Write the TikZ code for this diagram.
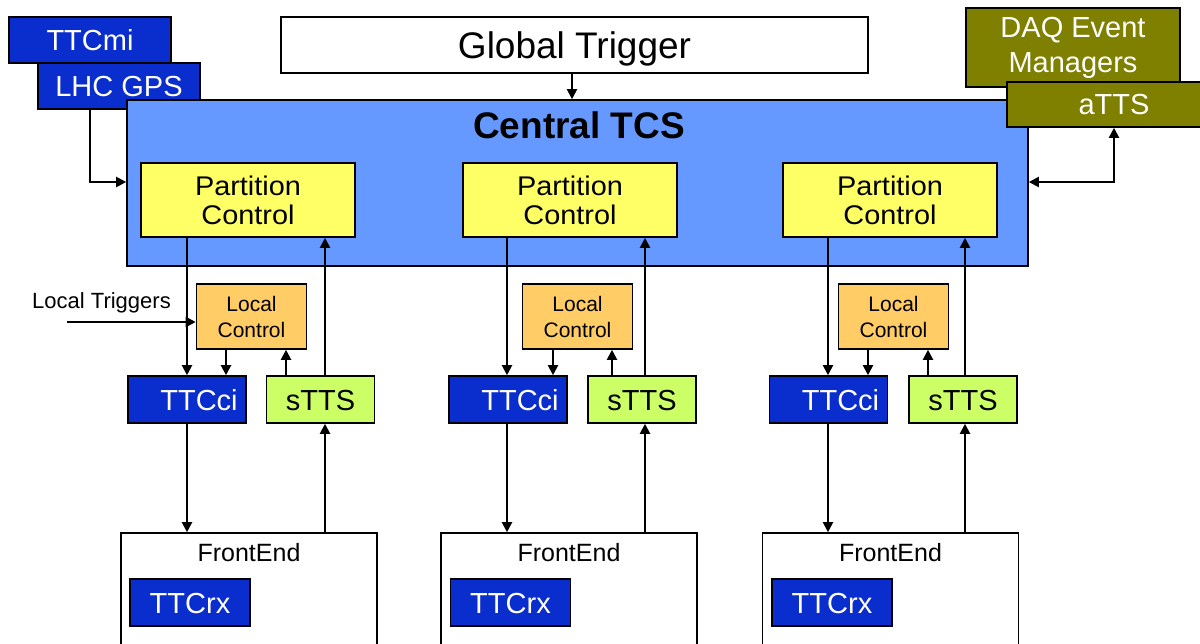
\documentclass[tikz,border=0pt]{standalone}
\usepackage{fontspec}
\setmainfont{Liberation Sans}
\newfontfamily\widefont[FakeStretch=1.07]{Liberation Sans}
\usetikzlibrary{arrows.meta}
\definecolor{ttcblue}{RGB}{10,45,205}
\definecolor{tcsblue}{RGB}{102,153,255}
\definecolor{partyellow}{RGB}{255,255,102}
\definecolor{lcorange}{RGB}{255,204,102}
\definecolor{sttsgreen}{RGB}{204,255,102}
\definecolor{daqolive}{RGB}{128,128,0}
\newcommand\szTitle{\fontsize{37pt}{44pt}\selectfont}
\newcommand\szBox{\fontsize{29pt}{35pt}\selectfont}
\newcommand\szPart{\widefont\fontsize{27pt}{29pt}\selectfont}
\newcommand\szLoc{\fontsize{21pt}{26pt}\selectfont}
\newcommand\szFE{\fontsize{25pt}{30pt}\selectfont}
\newcommand\szLT{\fontsize{22pt}{26pt}\selectfont}
\begin{document}
\begin{tikzpicture}[x=1pt,y=-1pt,
  box/.style={draw=black, line width=1.6pt, rectangle, inner sep=0pt, text height=21pt, text depth=0pt},
  mbox/.style={draw=black, line width=1.6pt, rectangle, inner sep=0pt, align=center},
  ttc/.style={box, fill=ttcblue, text=white, font=\szBox},
  olive/.style={mbox, fill=daqolive, text=white, font=\szBox},
  arr/.style={line width=2pt, -{Triangle[length=10pt,width=10pt]}},
  darr/.style={line width=2pt, {Triangle[length=10pt,width=10pt]}-{Triangle[length=10pt,width=10pt]}},
  plain/.style={inner sep=0pt}]
\useasboundingbox (0,0) rectangle (1200,644);
\clip (0,0) rectangle (1200,644);
\fill[white] (0,0) rectangle (1200,644);

% top row
\node[ttc, minimum width=162pt, minimum height=46pt] (ttcmi) at (90,40) {TTCmi};
\node[ttc, minimum width=162pt, minimum height=46pt] (lhc) at (119,86) {LHC GPS};
\node[box, fill=white, font=\szTitle, text height=26.6pt, minimum width=587pt, minimum height=56pt] (gt) at (574.5,45) {Global Trigger};

% central TCS
\node[mbox, fill=tcsblue, minimum width=901pt, minimum height=166pt] (tcs) at (577.5,183) {};
\node[plain, anchor=base, font=\szTitle\bfseries] (tcst) at (579,139) {Central TCS};

\node[olive, minimum width=214pt, minimum height=79pt] (daq) at (1073,47.5) {DAQ Event\\Managers};
\node[box, fill=daqolive, text=white, font=\szBox, minimum width=214pt, minimum height=45pt] (atts) at (1114,104.5) {aTTS};

% arrows at top
\coordinate (gx) at (572,0);
\draw[arr] (gt.south -| gx) -- (tcs.north -| gx);
\coordinate (lg) at (90,182);
\draw[arr] (lhc.south -| lg) |- (tcs.west |- lg);
\coordinate (ag) at (1114,182);
\draw[darr] (tcs.east |- ag) -| (atts.south -| ag);

% columns
\foreach \i/\pc/\lc/\tc/\sc/\fc/\rc/\xa/\xb/\xc/\xd in {
  1/248/251.5/187/320.5/249/190/187/226/286/325,
  2/570/577.5/508/642/569/510.5/507/553/612/645,
  3/890/893.5/828.5/963/890.5/832/828/868/928/965}{
  \node[mbox, fill=partyellow, font=\szPart, minimum width=214pt, minimum height=74pt] (pc\i) at (\pc,200) {Partition\\Control};
  \node[mbox, fill=lcorange, font=\szLoc, minimum width=110pt, minimum height=65pt] (lc\i) at (\lc,316.5) {Local\\Control};
  \node[ttc, minimum width=118pt, minimum height=47pt] (tt\i) at (\tc,399.5) {\hspace*{24pt}TTCci};
  \node[box, fill=sttsgreen, font=\szBox, minimum width=108pt, minimum height=47pt] (st\i) at (\sc,399.5) {sTTS};
  \node[mbox, fill=white, minimum width=256pt, minimum height=127pt] (fe\i) at (\fc,596.5) {};
  \node[plain, font=\szFE, text height=18pt, text depth=0pt] (fet\i) at (\fc,552) {FrontEnd};
  \node[ttc, minimum width=120pt, minimum height=47pt] (rx\i) at (\rc,602.5) {TTCrx};
  \coordinate (xa\i) at (\xa,0);
  \coordinate (xb\i) at (\xb,0);
  \coordinate (xc\i) at (\xc,0);
  \coordinate (xd\i) at (\xd,0);
  \draw[arr] (pc\i.south -| xa\i) -- (tt\i.north -| xa\i);
  \draw[arr] (st\i.north -| xd\i) -- (pc\i.south -| xd\i);
  \draw[arr] (lc\i.south -| xb\i) -- (tt\i.north -| xb\i);
  \draw[arr] (st\i.north -| xc\i) -- (lc\i.south -| xc\i);
  \draw[arr] (tt\i.south -| xa\i) -- (fe\i.north -| xa\i);
  \draw[arr] (fe\i.north -| xd\i) -- (st\i.south -| xd\i);
}

% local triggers
\node[plain, anchor=base west, font=\szLT] (lt) at (32,309) {Local Triggers};
\coordinate (ltstart) at (67,322);
\draw[arr] (ltstart) -- (lc1.west |- ltstart);
\end{tikzpicture}
\end{document}
